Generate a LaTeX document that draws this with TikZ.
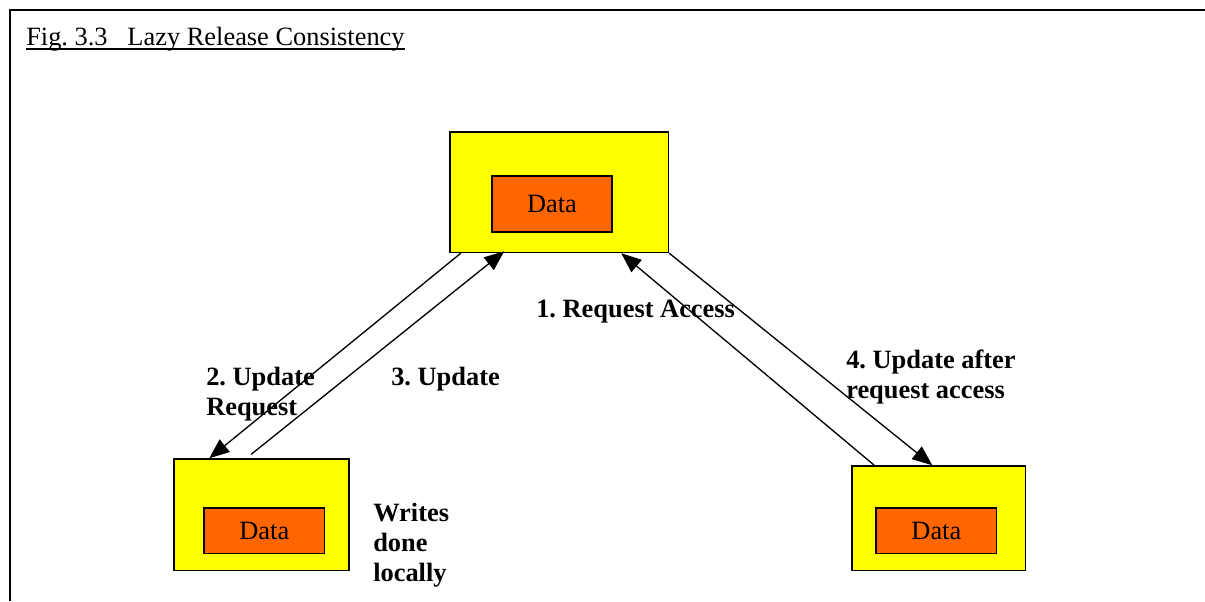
\documentclass[tikz,border=0pt]{standalone}
\usepackage{fontspec}
\setmainfont{Liberation Serif}
\usetikzlibrary{arrows.meta,calc}
\definecolor{holderfill}{HTML}{FFFF00}
\definecolor{datafill}{HTML}{FF6600}
\frenchspacing
\begin{document}
\begin{tikzpicture}[x=0.75pt,y=-0.75pt,
  holder/.style={draw=black,line width=1.1pt,fill=holderfill,inner sep=0pt},
  databox/.style={draw=black,line width=1.1pt,fill=datafill,inner sep=0pt,
    font=\fontsize{19.8pt}{22.5pt}\selectfont},
  lbl/.style={anchor=base west,inner sep=0pt,align=left,
    font=\fontsize{19.8pt}{22.5pt}\selectfont\bfseries},
  flow/.style={line width=1pt,-{Triangle[length=15pt,width=12pt]}}]
\useasboundingbox (0,0) rectangle (1205,601);

% open frame: top and left rules only
\draw[line width=1.5pt] (1205,9.5) -- (9.5,9.5) -- (9.5,601);

% caption
\node[anchor=base west,inner sep=0pt,font=\fontsize{19.8pt}{22.5pt}\selectfont]
  (title) at (26,45) {Fig. 3.3\hspace{0.75em}Lazy Release Consistency};
\draw[line width=1pt] ([yshift=-3pt]title.base west) -- ([yshift=-3pt]title.base east);

% shared copy at the top, local copies below
\node[holder,minimum width=218.5*0.75pt,minimum height=120.5*0.75pt] (top) at (559.25,192.25) {};
\node[databox,minimum width=120*0.75pt,minimum height=56*0.75pt] (topdata) at (552,204) {Data};

\node[holder,minimum width=175*0.75pt,minimum height=111.5*0.75pt] (bl) at (261.5,514.75) {};
\node[databox,minimum width=120.7*0.75pt,minimum height=45.7*0.75pt] (bldata) at (264.35,530.85) {Data};

\node[holder,minimum width=173.7*0.75pt,minimum height=104.7*0.75pt] (br) at (938.85,518.35) {};
\node[databox,minimum width=120.7*0.75pt,minimum height=45.7*0.75pt] (brdata) at (936.35,530.85) {Data};

% message flow
\draw[flow] ($(top.south west)+(11.5,0)$) -- ($(bl.north west)+(36,0)$);
\draw[flow] ($(bl.north west)+(78,-4)$) -- ($(top.south west)+(55,-2)$);
\draw[flow] ($(br.north west)+(23,0)$) -- ($(top.south west)+(172,0)$);
\draw[flow] (top.south east) -- ($(br.north west)+(81,0)$);

% labels (anchored on the baseline of their last line)
\node[lbl] (l1) at (536,317) {1. Request Access};
\node[lbl] (l2) at (206,415) {2. Update\\Request};
\node[lbl] (l3) at (391,385) {3. Update};
\node[lbl] (l4) at (846,398) {4. Update after\\request access};
\node[lbl] (l5) at (373,581) {Writes\\done\\locally};
\end{tikzpicture}
\end{document}
